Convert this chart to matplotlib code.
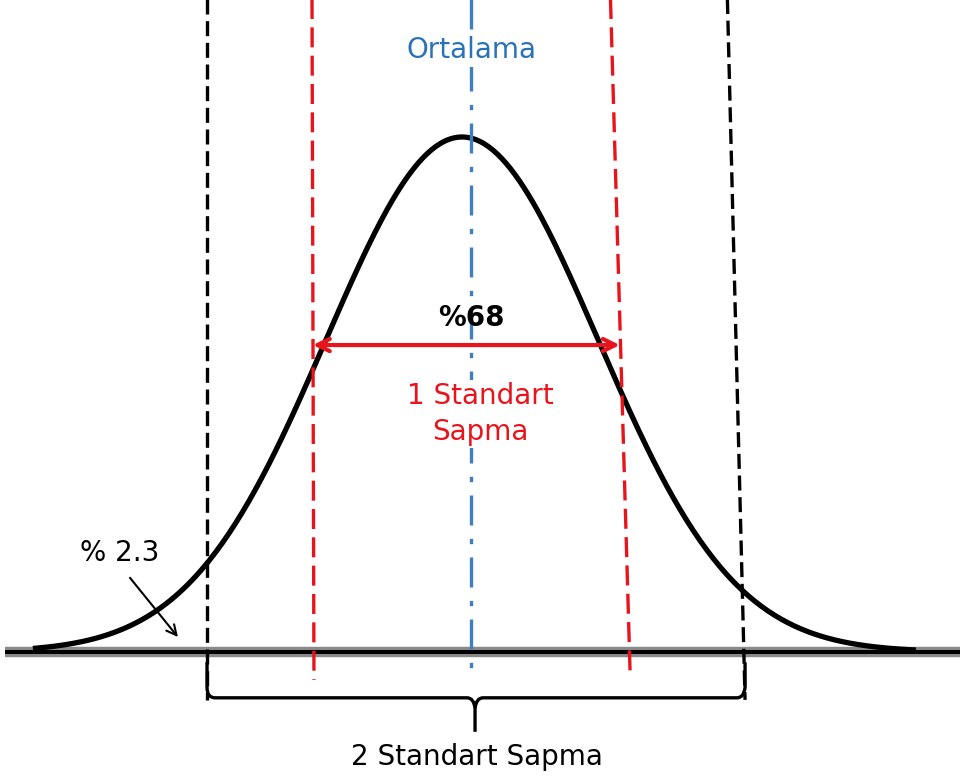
import numpy as np
import matplotlib.pyplot as plt
from matplotlib.path import Path
from matplotlib.patches import PathPatch

# normal curve: x in standard-deviation units, y relative to the peak height
curve_mean = -0.067
curve_sd = 1.015
curve_range = (-3.25, 3.3)

# guide lines (the screenshot is slightly skewed, so top/bottom differ)
two_sd_top = [-1.97, 1.91]
two_sd_bottom = [-1.97, 2.045]
two_sd_end = -0.093
one_sd_top = [-1.187, 1.037]
one_sd_bottom = [-1.172, 1.187]
one_sd_end = [-0.054, -0.039]
mean_x = 0.0
mean_end = -0.045

arrow_x = [-1.18, 1.11]
arrow_y = 0.596

labels = {
    "mean": "Ortalama",
    "pct68": "%68",
    "one_sd": "1 Standart\nSapma",
    "tail": "% 2.3",
    "two_sd": "2 Standart Sapma",
}

fig = plt.figure(figsize=(9.6, 7.78), dpi=100)
ax = fig.add_axes([0, 0, 1, 1])
ax.set_xlim(-3.515, 3.649)
ax.set_ylim(-0.2447, 1.266)
ax.axis('off')

top = 1.3

# baseline
ax.plot([-3.48, 3.65], [0, 0], color='#8a8a8a', lw=7.5, solid_capstyle='butt', zorder=2)
ax.plot([-3.48, 3.65], [0, 0], color='black', lw=2.9, solid_capstyle='butt', zorder=3)

# curve
xs = np.linspace(curve_range[0], curve_range[1], 400)
ys = np.exp(-((xs - curve_mean) / curve_sd) ** 2 / 2)
ax.plot(xs, ys, color='black', lw=3.8, zorder=4)

# mean line
ax.plot([mean_x, mean_x], [top, mean_end], color='#3f7fc0', lw=2.4,
        dashes=(9, 4, 1.6, 4), dash_capstyle='butt', zorder=5)

# 1 sd lines
for xt, xb, yb in zip(one_sd_top, one_sd_bottom, one_sd_end):
    ax.plot([xt, xb], [top, yb], color='#e8141c', lw=2.4,
            dashes=(6, 2.5), dash_capstyle='butt', zorder=6)

# 2 sd lines
for xt, xb in zip(two_sd_top, two_sd_bottom):
    ax.plot([xt, xb], [top, two_sd_end], color='black', lw=2.4,
            dashes=(4.5, 2), dash_capstyle='butt', zorder=6)

# 68% arrow
ax.annotate('', xy=(arrow_x[0], arrow_y), xytext=(arrow_x[1], arrow_y),
            arrowprops=dict(arrowstyle='<->', color='#e8141c', lw=3,
                            mutation_scale=22, shrinkA=0, shrinkB=0), zorder=7)

# brace under the 2 sd range
bl, br = two_sd_bottom[0], two_sd_bottom[1]
bm = 0.03
yh, ytop, ytip = -0.089, -0.02, -0.155
r = 0.06
verts = [
    (bl, ytop), (bl, yh + 0.02), (bl, yh), (bl + r, yh),
    (bm - r, yh), (bm - 0.01, yh), (bm, yh - 0.02), (bm, ytip),
]
codes = [Path.MOVETO, Path.LINETO, Path.CURVE3, Path.CURVE3,
         Path.LINETO, Path.CURVE3, Path.CURVE3, Path.LINETO]
ax.add_patch(PathPatch(Path(verts, codes), fill=False, lw=2.4, color='black', zorder=6))
verts_r = [
    (br, ytop), (br, yh + 0.02), (br - 0.01, yh), (br - r, yh),
    (bm + r, yh), (bm + 0.01, yh), (bm, yh - 0.02),
]
codes_r = [Path.MOVETO, Path.LINETO, Path.CURVE3, Path.CURVE3,
           Path.LINETO, Path.CURVE3, Path.CURVE3]
ax.add_patch(PathPatch(Path(verts_r, codes_r), fill=False, lw=2.4, color='black', zorder=6))

# texts
ax.text(0.0, 1.169, labels["mean"], color='#2a72b8', fontsize=20,
        ha='center', va='center', zorder=8,
        bbox=dict(facecolor='white', edgecolor='none', pad=2))
ax.text(0.0, 0.649, labels["pct68"], color='black', fontsize=20, fontweight='bold',
        ha='center', va='center', zorder=8)
ax.text(0.067, 0.462, labels["one_sd"], color='#e8141c', fontsize=20,
        ha='center', va='center', linespacing=1.4, zorder=8,
        bbox=dict(facecolor='white', edgecolor='none', pad=1))
ax.text(-2.62, 0.192, labels["tail"], color='black', fontsize=20,
        ha='center', va='center', zorder=8)
ax.text(0.045, -0.204, labels["two_sd"], color='black', fontsize=20,
        ha='center', va='center', zorder=8)

# tail arrow
ax.annotate('', xy=(-2.187, 0.029), xytext=(-2.545, 0.144),
            arrowprops=dict(arrowstyle='->', color='black', lw=1.5,
                            mutation_scale=18, shrinkA=0, shrinkB=0), zorder=7)

fig.savefig('out.png', dpi=100)
